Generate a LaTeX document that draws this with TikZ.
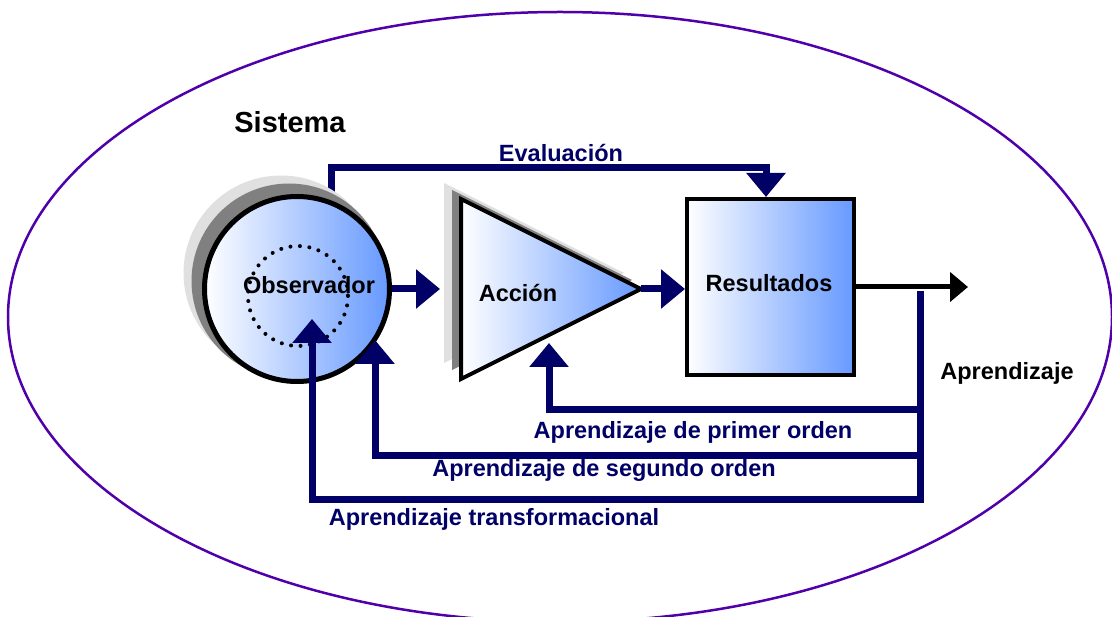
\documentclass[tikz,border=0pt]{standalone}
\usepackage{fontspec}
\setmainfont{Liberation Sans}
\usetikzlibrary{arrows.meta,calc,positioning}
\definecolor{navy}{RGB}{0,0,102}
\definecolor{lila}{RGB}{80,0,170}
\definecolor{celeste}{RGB}{102,153,255}
\definecolor{grisA}{RGB}{128,128,128}
\definecolor{grisB}{RGB}{224,224,224}
\tikzset{
    blob/.style =   {circle,
                    left color=white,
                    right color=celeste,
                    draw=black,
                    line width=5pt,
                    minimum size=185pt,
                    inner sep=0pt},
    caja/.style =   {rectangle,
                    left color=white,
                    right color=celeste,
                    draw=black,
                    line width=4pt,
                    minimum width=167pt,
                    minimum height=176pt,
                    inner sep=0pt},
    lazo/.style =   {draw=navy,
                    line width=7pt},
    punta/.style =  {-{Triangle[width=38pt,length=24pt]}},
    etiq/.style =   {font=\bfseries\fontsize{23.5}{28}\selectfont,
                    inner sep=0pt},
    -,
    x=1pt,
    y=-1pt}

\begin{document}
\begin{tikzpicture}
                \useasboundingbox (0,0) rectangle (1112,617);
                % sistema
                \draw[lila, line width=2.5pt] (560,317) ellipse [x radius=552, y radius=305];
                \node[etiq, font=\bfseries\fontsize{29}{34}\selectfont] (sis) at (290,122) {Sistema};

                % puntos fijos
                \coordinate (evs)   at (331,215);
                \coordinate (evtop) at (766,168);
                \coordinate (tl)    at (461,199);
                \coordinate (bl)    at (461,379);
                \coordinate (tip)   at (641,289);
                \coordinate (accin) at (440,289);
                \coordinate (out)   at (968,287);
                \coordinate (fa)    at (920,291);
                \coordinate (fb)    at (920,503);
                \coordinate (fo1)   at (923,410);
                \coordinate (fo2)   at (923,456);
                \coordinate (fo3)   at (923,500);
                \coordinate (t1)    at (549,343);
                \coordinate (t2)    at (375,340);
                \coordinate (t3)    at (312,319);

                % evaluacion (detras del circulo)
                \draw[lazo, punta] (evs) |- (evtop) -- (evtop |- 0,197);

                % sombras
                \fill[grisB] (281,273) circle [radius=97.5];
                \fill[grisA] (289,281) circle [radius=97.5];
                \fill[grisB] ($(tl)+(-17,-16)$) -- ($(tip)+(-17,-16)$) -- ($(bl)+(-17,-16)$) -- cycle;
                \fill[grisA] ($(tl)+(-9,-9)$) -- ($(tip)+(-9,-9)$) -- ($(bl)+(-9,-9)$) -- cycle;

                % figuras
                \node[blob]         (obs) at (297,289)  {};
                \draw[line width=4pt, line cap=round, dash pattern=on 0pt off 9.5pt] (298,296) circle [radius=50];
                \shade[left color=white, right color=celeste, draw=black, line width=4pt]
                                    (tl) -- (tip) -- (bl) -- cycle;
                \node[caja]         (res) at (770.5,287) {};

                % textos
                \node[etiq]         (obstxt) at (309,285) {Observador};
                \node[etiq]         (acc)    at (518,293) {Acción};
                \node[etiq]         (restxt) at (769,283) {Resultados};
                \node[etiq]         (apr)    at (1007,373) {Aprendizaje};
                \node[etiq, text=navy] (ev)  at (561,153) {Evaluación};
                \node[etiq, text=navy] (l1)  at (693,432) {Aprendizaje de primer orden};
                \node[etiq, text=navy] (l2)  at (604,470) {Aprendizaje de segundo orden};
                \node[etiq, text=navy] (l3)  at (494,519) {Aprendizaje transformacional};

                % flechas
                \draw[lazo, punta] (obs.east) -- (accin);
                \draw[lazo, punta] (tip) -- (tip -| res.west);
                \draw[black, line width=5pt, -{Triangle[width=29pt,length=18pt]}] (res.east) -- (out);
                \draw[lazo] (fa) -- (fb);
                \draw[lazo, punta] (fo1) -| (t1);
                \draw[lazo, punta] (fo2) -| (t2);
                \draw[lazo, punta] (fo3) -| (t3);
\end{tikzpicture}
\end{document}
